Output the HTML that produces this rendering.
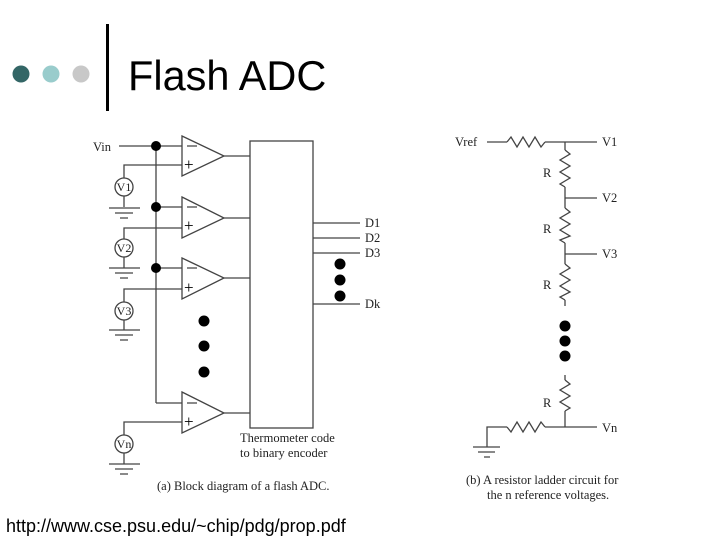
<!DOCTYPE html>
<html><head><style>body{margin:0;background:#fff}svg{display:block}</style></head><body>
<svg width="720" height="540" viewBox="0 0 720 540" xmlns="http://www.w3.org/2000/svg">
<rect width="720" height="540" fill="#fff"/>
<circle cx="21" cy="74" r="8.5" fill="#336666"/>
<circle cx="51" cy="74" r="8.5" fill="#99cccc"/>
<circle cx="81" cy="74" r="8.5" fill="#c8c8c8"/>
<rect x="106" y="24" width="3" height="87" fill="#000"/>
<text x="128" y="90" font-family="Liberation Sans, sans-serif" font-size="41.5" fill="#000">Flash ADC</text>
<text x="6" y="532" font-family="Liberation Sans, sans-serif" font-size="18" fill="#000">http://www.cse.psu.edu/~chip/pdg/prop.pdf</text>
<g stroke="#444" stroke-width="1.3" fill="none">
<line x1="119" y1="146" x2="182" y2="146"/>
<line x1="156" y1="146" x2="156" y2="403"/>
<line x1="156" y1="403" x2="182" y2="403"/>
<line x1="156" y1="207" x2="182" y2="207"/>
<line x1="156" y1="268" x2="182" y2="268"/>
<polygon points="182,136 224,156 182,176"/>
<polygon points="182,197 224,218 182,238"/>
<polygon points="182,258 224,278 182,299"/>
<polygon points="182,392 224,413 182,433"/>
<line x1="224" y1="156" x2="250" y2="156"/>
<line x1="224" y1="218" x2="250" y2="218"/>
<line x1="224" y1="278" x2="250" y2="278"/>
<line x1="224" y1="413" x2="250" y2="413"/>
<rect x="250" y="141" width="63" height="287"/>
<line x1="313" y1="223" x2="360" y2="223"/>
<line x1="313" y1="238" x2="360" y2="238"/>
<line x1="313" y1="253" x2="360" y2="253"/>
<line x1="313" y1="304" x2="360" y2="304"/>
<path d="M124 178 V165 H182"/><circle cx="124" cy="187" r="9"/><line x1="124" y1="196" x2="124" y2="207"/>
<path d="M124 239 V228 H182"/><circle cx="124" cy="248" r="9"/><line x1="124" y1="257" x2="124" y2="268"/>
<path d="M124 302 V289 H182"/><circle cx="124" cy="311" r="9"/><line x1="124" y1="320" x2="124" y2="330"/>
<path d="M124 435 V422 H182"/><circle cx="124" cy="444" r="9"/><line x1="124" y1="453" x2="124" y2="464"/>
<path d="M109 208H140M115 213H133M120 218H128"/>
<path d="M109 268H140M115 273H133M120 278H128"/>
<path d="M109 330H140M115 335H133M120 340H128"/>
<path d="M109 464H140M115 469H133M120 474H128"/>
<line x1="487" y1="142" x2="507" y2="142"/>
<polyline points="507,142 511,137 517,147 523,137 529,147 535,137 541,147 545,142"/>
<line x1="545" y1="142" x2="597" y2="142"/>
<line x1="565" y1="142" x2="565" y2="150"/>
<polyline points="565,150 570,154 560,160 570,166 560,172 570,178 560,184 565,187"/>
<line x1="565" y1="187" x2="565" y2="208"/>
<line x1="565" y1="198" x2="597" y2="198"/>
<polyline points="565,208 570,212 560,218 570,224 560,230 570,236 560,240 565,243"/>
<line x1="565" y1="243" x2="565" y2="264"/>
<line x1="565" y1="254" x2="597" y2="254"/>
<polyline points="565,264 570,268 560,274 570,280 560,286 570,292 560,297 565,300"/>
<line x1="565" y1="300" x2="565" y2="306"/>
<line x1="565" y1="375" x2="565" y2="380"/>
<polyline points="565,380 570,384 560,390 570,396 560,402 570,408 565,411"/>
<line x1="565" y1="411" x2="565" y2="427"/>
<line x1="545" y1="427" x2="597" y2="427"/>
<polyline points="545,427 541,422 535,432 529,422 523,432 517,422 511,432 507,427"/>
<path d="M507 427 H487 V447"/>
<path d="M473 447H500M478 452H495M484 457H490"/>
<path d="M187 146H197M187 207H197M187 268H197M187 403H197"/>
</g>
<g fill="#000">
<g font-family="Liberation Serif, serif" font-size="17">
<text x="184" y="170">+</text><text x="184" y="231">+</text><text x="184" y="293">+</text><text x="184" y="427">+</text>
</g>
<circle cx="156" cy="146" r="5"/><circle cx="156" cy="207" r="5"/><circle cx="156" cy="268" r="5"/>
<circle cx="204" cy="321" r="5.5"/><circle cx="204" cy="346" r="5.5"/><circle cx="204" cy="372" r="5.5"/>
<circle cx="340" cy="264" r="5.5"/><circle cx="340" cy="280" r="5.5"/><circle cx="340" cy="296" r="5.5"/>
<circle cx="565" cy="326" r="5.5"/><circle cx="565" cy="341" r="5.5"/><circle cx="565" cy="356" r="5.5"/>
<g font-family="Liberation Serif, serif" font-size="12.5" fill="#222">
<text x="93" y="151">Vin</text>
<g text-anchor="middle" font-size="12"><text x="124" y="191">V1</text><text x="124" y="252">V2</text><text x="124" y="315">V3</text><text x="124" y="448">Vn</text></g>
<text x="365" y="227">D1</text><text x="365" y="242">D2</text><text x="365" y="257">D3</text><text x="365" y="308">Dk</text>
<text x="240" y="442">Thermometer code</text><text x="240" y="457">to binary encoder</text>
<text x="157" y="490">(a)  Block diagram of a flash ADC.</text>
<text x="455" y="146">Vref</text><text x="602" y="146">V1</text><text x="602" y="202">V2</text><text x="602" y="258">V3</text><text x="602" y="432">Vn</text>
<text x="543" y="177">R</text><text x="543" y="233">R</text><text x="543" y="289">R</text><text x="543" y="407">R</text>
<text x="466" y="484">(b)  A resistor ladder circuit for</text>
<text x="487" y="499">the n reference voltages.</text>
</g>
</g>
</svg>
</body></html>
